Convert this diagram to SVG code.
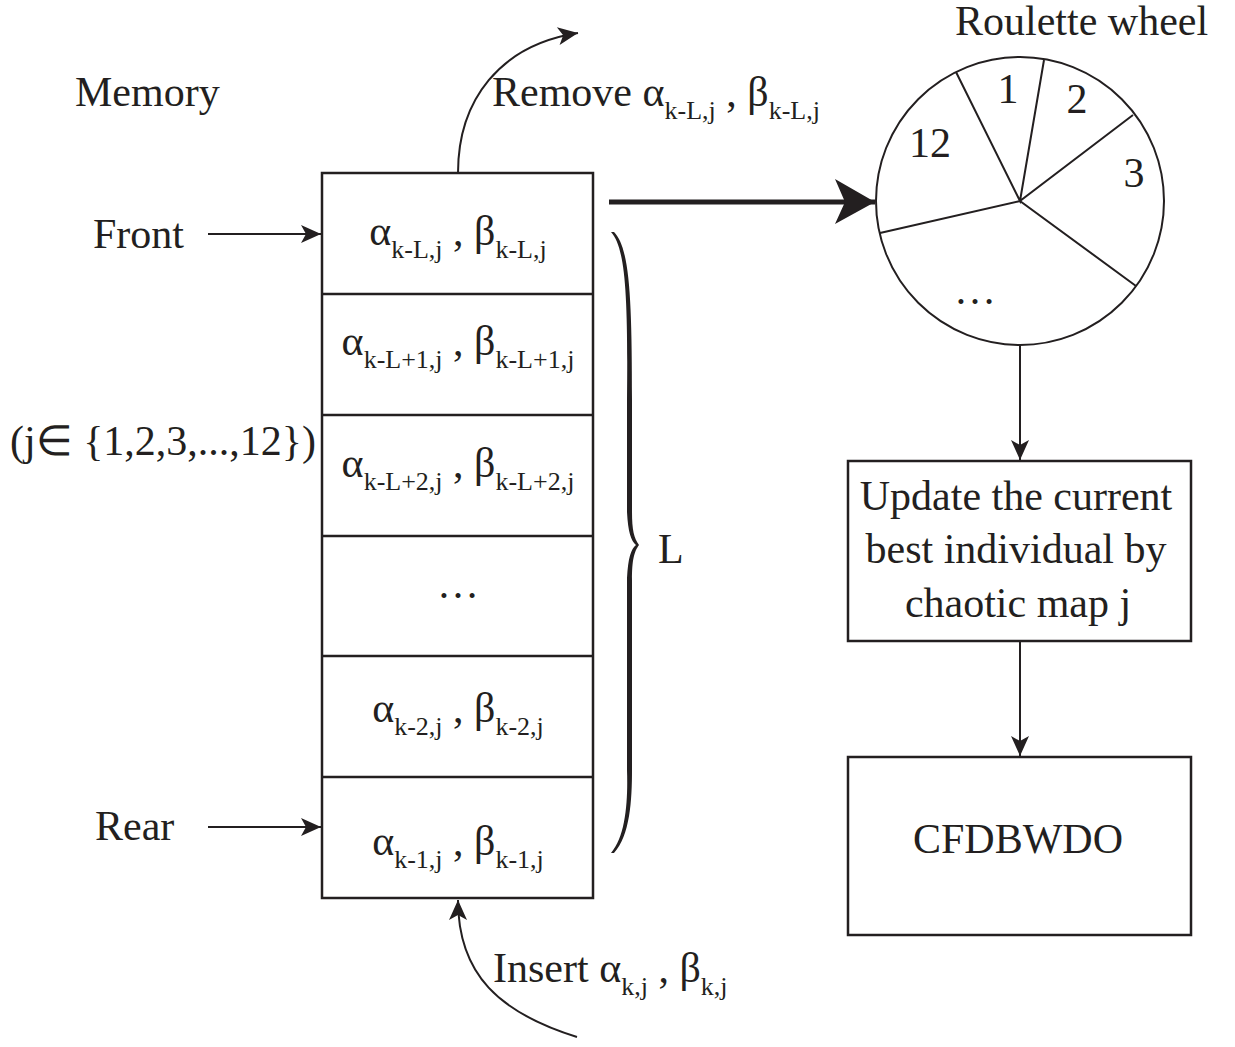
<svg xmlns="http://www.w3.org/2000/svg" width="1235" height="1047" viewBox="0 0 1235 1047">
<style>
.t{font-family:"Liberation Serif","Times New Roman",serif;font-size:42px;fill:#231f20}
.s{font-size:26px}
.box{fill:none;stroke:#231f20;stroke-width:2.5}
.ln{fill:none;stroke:#231f20;stroke-width:2}
</style>
<defs>
<marker id="ah" markerUnits="userSpaceOnUse" markerWidth="22" markerHeight="20" viewBox="-21 -10 22 20" refX="0" refY="0" orient="auto">
<path d="M0,0 L-20,-9 L-15,0 L-20,9 Z" fill="#231f20"/>
</marker>
<marker id="big" markerUnits="userSpaceOnUse" markerWidth="42" markerHeight="48" viewBox="-41 -24 42 48" refX="0" refY="0" orient="auto">
<path d="M0,0 L-40,-23 L-30,0 L-40,22 Z" fill="#231f20"/>
</marker>
</defs>
<rect width="1235" height="1047" fill="#fff"/>

<g id="labels">
<text class="t" x="75" y="106">Memory</text>
<text class="t" x="93" y="248">Front</text>
<text class="t" x="95" y="840">Rear</text>
<text class="t" x="10" y="455">(j∈ {1,2,3,...,12})</text>
<text class="t" x="492" y="106">Remove α<tspan class="s" dy="13">k-L,j</tspan><tspan dy="-13"> , β</tspan><tspan class="s" dy="13">k-L,j</tspan></text>
<text class="t" x="493" y="982">Insert α<tspan class="s" dy="13">k,j</tspan><tspan dy="-13"> , β</tspan><tspan class="s" dy="13">k,j</tspan></text>
<text class="t" x="658" y="563">L</text>
<text class="t" x="955" y="35">Roulette wheel</text>
</g>

<g id="memory">
<rect class="box" x="322" y="173" width="271" height="725"/>
<line class="box" x1="322" y1="294" x2="593" y2="294"/>
<line class="box" x1="322" y1="415" x2="593" y2="415"/>
<line class="box" x1="322" y1="536" x2="593" y2="536"/>
<line class="box" x1="322" y1="656" x2="593" y2="656"/>
<line class="box" x1="322" y1="777" x2="593" y2="777"/>
<text class="t" x="458" y="245" text-anchor="middle">α<tspan class="s" dy="13">k-L,j</tspan><tspan dy="-13"> , β</tspan><tspan class="s" dy="13">k-L,j</tspan></text>
<text class="t" x="458" y="355" text-anchor="middle">α<tspan class="s" dy="13">k-L+1,j</tspan><tspan dy="-13"> , β</tspan><tspan class="s" dy="13">k-L+1,j</tspan></text>
<text class="t" x="458" y="477" text-anchor="middle">α<tspan class="s" dy="13">k-L+2,j</tspan><tspan dy="-13"> , β</tspan><tspan class="s" dy="13">k-L+2,j</tspan></text>
<text class="t" x="458" y="598" text-anchor="middle">…</text>
<text class="t" x="458" y="722" text-anchor="middle">α<tspan class="s" dy="13">k-2,j</tspan><tspan dy="-13"> , β</tspan><tspan class="s" dy="13">k-2,j</tspan></text>
<text class="t" x="458" y="855" text-anchor="middle">α<tspan class="s" dy="13">k-1,j</tspan><tspan dy="-13"> , β</tspan><tspan class="s" dy="13">k-1,j</tspan></text>
</g>

<g id="brace">
<path d="M611,232 C626,248 628,300 627,400 L627,512 C628,532 631,541 636,545 C631,549 628,558 627,578 L627,770 C628,800 626,836 611,853 L614,853 C630,836 632,800 632,770 L632,580 C632,560 634,552 639,545 C634,538 632,530 632,512 L632,400 C632,300 630,248 614,232 Z" fill="#231f20"/>
</g>

<g id="wheel">
<circle cx="1020" cy="201" r="144" class="ln"/>
<path class="ln" d="M956,72 L1020,201 L1044,60 M1133,115 L1020,201 L1136,286 M880,233 L1020,201"/>
<text class="t" x="1008" y="103" text-anchor="middle">1</text>
<text class="t" x="1077" y="113" text-anchor="middle">2</text>
<text class="t" x="1134" y="187" text-anchor="middle">3</text>
<text class="t" x="930" y="157" text-anchor="middle">12</text>
<text class="t" x="975" y="304" text-anchor="middle">…</text>
</g>

<g id="update">
<rect class="box" x="848" y="461" width="343" height="180"/>
<text class="t" x="1016" y="510" text-anchor="middle">Update the current</text>
<text class="t" x="1016" y="563" text-anchor="middle">best individual by</text>
<text class="t" x="1018" y="617" text-anchor="middle">chaotic map j</text>
</g>

<g id="cfdbwdo">
<rect class="box" x="848" y="757" width="343" height="178"/>
<text class="t" x="1018" y="853" text-anchor="middle">CFDBWDO</text>
</g>

<g id="connectors">
<line class="ln" x1="208" y1="234" x2="321" y2="234" marker-end="url(#ah)"/>
<line class="ln" x1="208" y1="827" x2="321" y2="827" marker-end="url(#ah)"/>
<path class="ln" d="M458,173 C458,100 500,45 578,33" marker-end="url(#ah)"/>
<path class="ln" d="M577,1037 C500,1013 458,975 458,900" marker-end="url(#ah)"/>
<line x1="609" y1="202" x2="875" y2="202" stroke="#231f20" stroke-width="5" marker-end="url(#big)"/>
<line class="ln" x1="1020" y1="345" x2="1020" y2="460" marker-end="url(#ah)"/>
<line class="ln" x1="1020" y1="641" x2="1020" y2="756" marker-end="url(#ah)"/>
</g>
</svg>
